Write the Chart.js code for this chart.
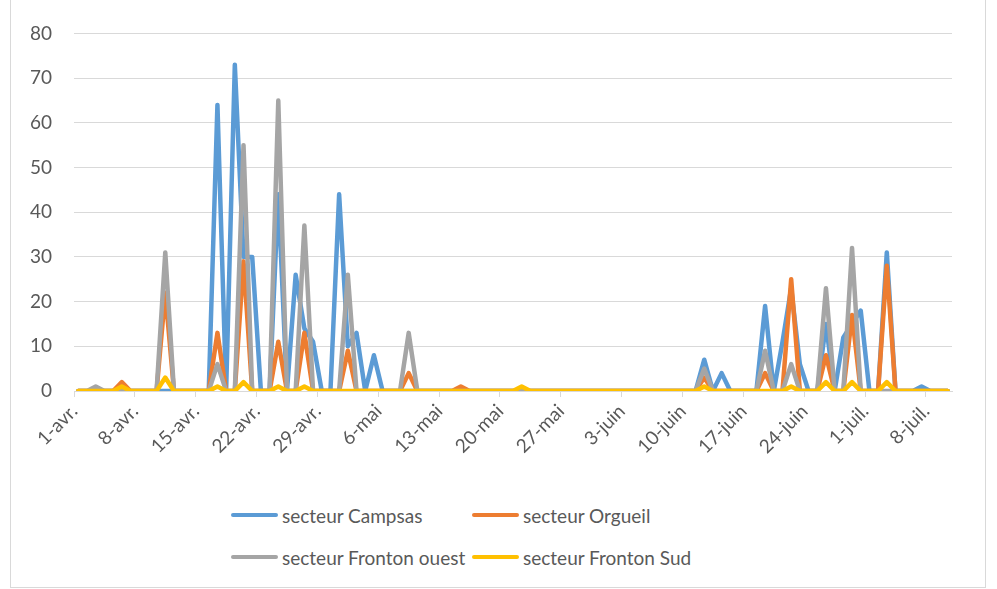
<!DOCTYPE html>
<html>
<head>
<meta charset="utf-8">
<script src="https://cdn.jsdelivr.net/npm/chart.js@4.4.1/dist/chart.umd.min.js"></script>
<style>
  html, body { margin: 0; padding: 0; background: #fff; }
  #wrap { position: relative; width: 997px; height: 589px; overflow: hidden; font-family: Lato, "Noto Sans", sans-serif; }
  #frame { position: absolute; left: 10px; top: -2px; width: 976px; height: 590px; border: 1px solid #d9d9d9; box-sizing: border-box; }
  #cs-chart { position: absolute; left: 0; top: 0; }
  #cs-legend { position: absolute; left: 231px; top: 494px; display: grid; grid-template-columns: 241px auto; grid-auto-rows: 42px; }
  .cs-item { display: flex; align-items: center; color: #595959; font-size: 19px; white-space: nowrap; }
  .cs-swatch { width: 47px; height: 4px; border-radius: 2px; margin-right: 4px; }
</style>
</head>
<body>
<div id="wrap">
  <div id="frame"></div>
  <canvas id="cs-chart" width="997" height="480"></canvas>
  <div id="cs-legend"></div>
</div>
<script>
// one label per day, 1 April -> 10 July
const days = [
  '1-avr.','2-avr.','3-avr.','4-avr.','5-avr.','6-avr.','7-avr.',
  '8-avr.','9-avr.','10-avr.','11-avr.','12-avr.','13-avr.','14-avr.',
  '15-avr.','16-avr.','17-avr.','18-avr.','19-avr.','20-avr.','21-avr.',
  '22-avr.','23-avr.','24-avr.','25-avr.','26-avr.','27-avr.','28-avr.',
  '29-avr.','30-avr.','1-mai','2-mai','3-mai','4-mai','5-mai',
  '6-mai','7-mai','8-mai','9-mai','10-mai','11-mai','12-mai',
  '13-mai','14-mai','15-mai','16-mai','17-mai','18-mai','19-mai',
  '20-mai','21-mai','22-mai','23-mai','24-mai','25-mai','26-mai',
  '27-mai','28-mai','29-mai','30-mai','31-mai','1-juin','2-juin',
  '3-juin','4-juin','5-juin','6-juin','7-juin','8-juin','9-juin',
  '10-juin','11-juin','12-juin','13-juin','14-juin','15-juin','16-juin',
  '17-juin','18-juin','19-juin','20-juin','21-juin','22-juin','23-juin',
  '24-juin','25-juin','26-juin','27-juin','28-juin','29-juin','30-juin',
  '1-juil.','2-juil.','3-juil.','4-juil.','5-juil.','6-juil.','7-juil.',
  '8-juil.','9-juil.','10-juil.'
];

const tickLabels = ['1-avr.','8-avr.','15-avr.','22-avr.','29-avr.','6-mai','13-mai','20-mai',
  '27-mai','3-juin','10-juin','17-juin','24-juin','1-juil.','8-juil.'];

const yTicks = [0, 10, 20, 30, 40, 50, 60, 70, 80];

const campsas = [
  0,0,0,0,0,0,0,   0,0,0,0,0,0,0,   0,0,64,0,73,30,30,   0,0,44,0,26,14,11,
  0,0,44,10,13,0,8,   0,0,0,0,0,0,0,   0,0,0,0,0,0,0,   0,0,0,0,0,0,0,
  0,0,0,0,0,0,0,   0,0,0,0,0,0,0,   0,0,7,0,4,0,0,   0,0,19,0,11,23,6,
  0,0,15,0,12,15,18,   0,0,31,0,0,0,1,   0,0,0
];
const orgueil = [
  0,0,0,0,0,2,0,   0,0,0,22,0,0,0,   0,0,13,0,0,29,0,   0,0,11,0,0,13,0,
  0,0,0,9,0,0,0,   0,0,0,4,0,0,0,   0,0,1,0,0,0,0,   0,0,0,0,0,0,0,
  0,0,0,0,0,0,0,   0,0,0,0,0,0,0,   0,0,3,0,0,0,0,   0,0,4,0,0,25,0,
  0,0,8,0,0,17,0,   0,0,28,0,0,0,0,   0,0,0
];
const frontonOuest = [
  0,0,1,0,0,0,0,   0,0,0,31,0,0,0,   0,0,6,0,0,55,0,   0,0,65,0,0,37,0,
  0,0,0,26,0,0,0,   0,0,0,13,0,0,0,   0,0,0,0,0,0,0,   0,0,0,0,0,0,0,
  0,0,0,0,0,0,0,   0,0,0,0,0,0,0,   0,0,5,0,0,0,0,   0,0,9,0,0,6,0,
  0,0,23,0,0,32,0,   0,0,0,0,0,0,0,   0,0,0
];
const frontonSud = [
  0,0,0,0,0,1,0,   0,0,0,3,0,0,0,   0,0,1,0,0,2,0,   0,0,1,0,0,1,0,
  0,0,0,0,0,0,0,   0,0,0,0,0,0,0,   0,0,0,0,0,0,0,   0,0,1,0,0,0,0,
  0,0,0,0,0,0,0,   0,0,0,0,0,0,0,   0,0,1,0,0,0,0,   0,0,0,0,0,1,0,
  0,0,2,0,0,2,0,   0,0,2,0,0,0,0,   0,0,0
];

const seriesNames  = ['secteur Campsas', 'secteur Orgueil', 'secteur Fronton ouest', 'secteur Fronton Sud'];
const seriesValues = [campsas, orgueil, frontonOuest, frontonSud];
const seriesColours = ['#5b9bd5', '#ed7d31', '#a5a5a5', '#ffc000'];

const TEXT = '#595959';
const GRID = '#d9d9d9';
const font = { family: 'Lato, "Noto Sans", sans-serif', size: 19 };

const datasets = seriesNames.map((name, i) => ({
  label: name,
  data: seriesValues[i],
  borderColor: seriesColours[i],
  backgroundColor: seriesColours[i],
  order: seriesNames.length - i   // later series drawn on top, like the original
}));

const chart = new Chart(document.getElementById('cs-chart').getContext('2d'), {
  type: 'line',
  data: { labels: days, datasets },
  options: {
    responsive: false,
    animation: false,
    layout: { padding: { top: 33, right: 45, left: 0, bottom: 0 } },
    plugins: { legend: { display: false }, tooltip: { enabled: false } },
    elements: {
      point: { radius: 0 },
      line: { borderWidth: 4.5, tension: 0, borderJoinStyle: 'round', borderCapStyle: 'round' }
    },
    scales: {
      x: {
        offset: true,
        grid: {
          offset: true, drawOnChartArea: false, tickLength: 6,
          color: c => (c.index % 7 === 0 ? GRID : 'rgba(0,0,0,0)')
        },
        border: { color: GRID },
        ticks: {
          autoSkip: false, minRotation: 45, maxRotation: 45,
          color: TEXT, font, padding: 3, labelOffset: -4,
          callback: (v, i) => (tickLabels.includes(days[i]) ? days[i] : '')
        },
        afterFit: s => { s.height = 89; }
      },
      y: {
        min: yTicks[0], max: yTicks[yTicks.length - 1],
        afterBuildTicks: s => { s.ticks = yTicks.map(v => ({ value: v })); },
        grid: { color: GRID, drawTicks: false },
        border: { display: false },
        ticks: { color: TEXT, font, padding: 22 },
        afterFit: s => { s.width = 74; }
      }
    }
  }
});

// legend laid out in two columns like the original
const legend = document.getElementById('cs-legend');
chart.data.datasets.forEach(ds => {
  const item = document.createElement('div');
  item.className = 'cs-item';
  item.innerHTML = `<span class="cs-swatch" style="background:${ds.borderColor}"></span>${ds.label}`;
  legend.appendChild(item);
});
</script>
</body>
</html>
